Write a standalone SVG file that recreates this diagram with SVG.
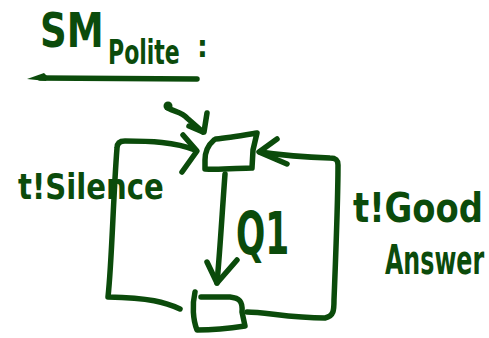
<svg xmlns="http://www.w3.org/2000/svg" width="489" height="338" viewBox="0 0 489 338">
  <style>
    .ink { fill: none; stroke: #0b4b0b; stroke-width: 5.5; stroke-linecap: round; stroke-linejoin: round; }
    .txt { fill: #0b4b0b; font-family: "DejaVu Sans Condensed", "DejaVu Sans", sans-serif; font-weight: bold; }
  </style>
  <rect width="489" height="338" fill="#ffffff"/>

  <!-- title with underline arrow -->
  <g id="title">
    <text class="txt" font-size="48" transform="translate(40,47) scale(0.86,1)">SM</text>
    <text class="txt" font-size="34" transform="translate(108,64) scale(0.72,1)">Polite</text>
    <text class="txt" font-size="30" transform="translate(197,57)">:</text>
    <path class="ink" d="M197,79 L40,78" stroke-width="4.5"/>
    <path d="M27,79 L44,73 L48,77 L46,81 Z" fill="#0b4b0b"/>
  </g>

  <!-- initial state marker -->
  <g id="initial">
    <circle cx="168" cy="106" r="4.5" fill="#0b4b0b"/>
  </g>

  <!-- state: waiting -->
  <g id="state-top">
    <path class="ink" d="M214,140 C207,146 205,152 205,160 L205,169 C220,170 240,168 252,168 L253,150 L257,133 C245,135 228,138 216,139"/>
  </g>

  <!-- state: after Q1 -->
  <g id="state-bottom">
    <path class="ink" d="M195,292 C192,305 193,320 197,330 C215,330 232,328 245,326 L242,312 C243,301 239,298 230,297 L201,297"/>
  </g>

  <!-- transitions -->
  <g id="connectors">
    <!-- initial arrow -->
    <path class="ink" d="M168,108 C175,112 182,112 187,118 L203,132"/>
    <path class="ink" d="M207,113 L204,132 M189,126 L203,132"/>
    <!-- Q1 -->
    <path class="ink" d="M225,174 C222,215 220,250 217,283"/>
    <path class="ink" d="M207,262 L217,283 L237,260"/>
    <!-- t!Silence loop -->
    <path class="ink" d="M180,309 C165,302 150,298 108,297 C112,260 113,200 117,148 C117,143 120,141 125,141 C150,141 175,142 195,150"/>
    <path class="ink" d="M183,135 L197,151 L182,172"/>
    <!-- t!Good Answer loop -->
    <path class="ink" d="M247,312 C265,312 290,318 325,318 C334,316 334,310 334,300 C336,250 338,200 338,165 C338,159 335,158 330,158 C300,157 280,155 260,152"/>
    <path class="ink" d="M277,139 L259,152 L287,164"/>
  </g>

  <!-- transition labels -->
  <g id="labels">
    <text class="txt" font-size="36" transform="translate(18,199) scale(0.9,1)">t!Silence</text>
    <text class="txt" font-size="58" transform="translate(236,254) scale(0.66,1)">Q1</text>
    <text class="txt" font-size="40" transform="translate(353,222) scale(0.94,1)">t!Good</text>
    <text class="txt" font-size="40" transform="translate(385,274) scale(0.66,1)">Answer</text>
  </g>
</svg>
